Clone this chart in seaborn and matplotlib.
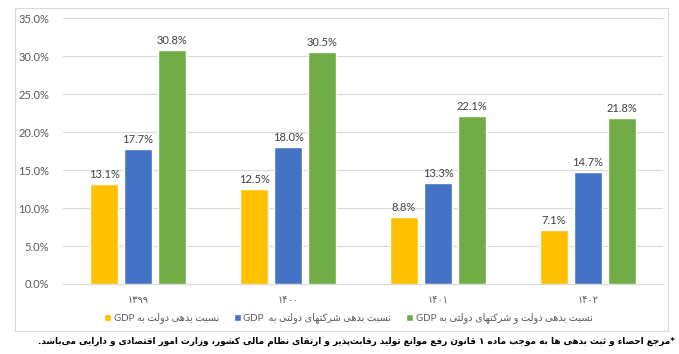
import re
import pandas as pd
import matplotlib
matplotlib.use("Agg")
import matplotlib.pyplot as plt
import seaborn as sns
from matplotlib.patches import Rectangle

# --- data ---
years = ["۱۳۹۹", "۱۴۰۰", "۱۴۰۱", "۱۴۰۲"]
series_names = [
    "نسبت بدهی دولت به GDP",
    "نسبت بدهی شرکتهای دولتی به  GDP",
    "نسبت بدهی دولت و شرکتهای دولتی به GDP",
]
gov_debt = [13.1, 12.5, 8.8, 7.1]
soe_debt = [17.7, 18.0, 13.3, 14.7]
total_debt = [30.8, 30.5, 22.1, 21.8]
colors = ["#FFC000", "#4472C4", "#70AD47"]
footnote = ("*مرجع احصاء و ثبت بدهی ها به موجب ماده ۱ قانون رفع موانع تولید رقابت\u200cپذیر "
            "و ارتقای نظام مالی کشور، وزارت امور اقتصادی و دارایی می\u200cباشد.")

# --- small persian shaper (matplotlib has no arabic shaping / bidi) ---
DUAL = {"ب": 0xFE8F, "ت": 0xFE95, "ث": 0xFE99, "ج": 0xFE9D, "ح": 0xFEA1, "خ": 0xFEA5,
        "س": 0xFEB1, "ش": 0xFEB5, "ص": 0xFEB9, "ض": 0xFEBD, "ط": 0xFEC1, "ظ": 0xFEC5,
        "ع": 0xFEC9, "غ": 0xFECD, "ف": 0xFED1, "ق": 0xFED5, "ل": 0xFEDD, "م": 0xFEE1,
        "ن": 0xFEE5, "ه": 0xFEE9, "ی": 0xFBFC, "ک": 0xFB8E, "پ": 0xFB56, "چ": 0xFB7A,
        "گ": 0xFB92}
RIGHT = {"ا": 0xFE8D, "د": 0xFEA9, "ذ": 0xFEAB, "ر": 0xFEAD, "ز": 0xFEAF, "و": 0xFEED,
         "ژ": 0xFB8A, "آ": 0xFE81}


def fa(s):
    out = []
    for i, c in enumerate(s):
        if c in DUAL or c in RIGHT:
            prev = s[i - 1] if i > 0 else ""
            nxt = s[i + 1] if i < len(s) - 1 else ""
            p = prev in DUAL
            q = c in DUAL and (nxt in DUAL or nxt in RIGHT)
            base = DUAL.get(c, RIGHT.get(c))
            k = 3 if (p and q) else 1 if p else 2 if q else 0
            out.append(chr(base + k))
        elif c == "\u200c":
            continue
        else:
            out.append(c)
    vis = "".join(out)[::-1]
    return re.sub(r"[A-Za-z0-9]+", lambda m: m.group(0)[::-1], vis)


labels = [fa(s) for s in series_names]
df = pd.DataFrame({
    "year": years * 3,
    "series": [labels[0]] * 4 + [labels[1]] * 4 + [labels[2]] * 4,
    "value": gov_debt + soe_debt + total_debt,
})

sns.set_theme(style="white")
plt.rcParams["font.family"] = ["Lato", "DejaVu Sans"]

fig = plt.figure(figsize=(6.79, 3.54), dpi=100)
ax = fig.add_axes([63 / 679, 1 - 284 / 354, 600 / 679, 266 / 354])

sns.barplot(data=df, x="year", y="value", hue="series", palette=colors,
            width=0.68, gap=0.18, ax=ax, saturation=1)

for cont in ax.containers:
    ax.bar_label(cont, labels=[f"{b.get_height():.1f}%" for b in cont],
                 padding=3, fontsize=8, color="#404040")

ax.set_ylim(0, 35)
ax.set_yticks(range(0, 36, 5))
ax.set_yticklabels([f"{v:.1f}%" for v in range(0, 36, 5)], fontsize=8, color="#595959")
ax.set_xticks(range(len(years)))
ax.set_xticklabels(years, fontsize=7, color="#595959", family=["DejaVu Sans"])
ax.tick_params(axis="both", length=0)
ax.tick_params(axis="x", pad=8)
ax.tick_params(axis="y", pad=10)
ax.set_xlabel("")
ax.set_ylabel("")
ax.set_xlim(-0.5, 3.5)
ax.yaxis.grid(True, color="#d9d9d9", linewidth=0.8)
ax.set_axisbelow(True)
for side in ["top", "right", "left"]:
    ax.spines[side].set_visible(False)
ax.spines["bottom"].set_color("#d9d9d9")
ax.spines["bottom"].set_linewidth(0.8)

ax.legend(loc="center", bbox_to_anchor=(0.513, 1 - 318 / 354),
          bbox_transform=fig.transFigure, ncol=3, frameon=False,
          fontsize=7, labelcolor="#595959", handlelength=0.7, handleheight=0.7,
          handletextpad=0.3, columnspacing=1.5)

fig.patches.append(Rectangle((15 / 679, 1 - 331 / 354), 653 / 679, 323 / 354,
                             transform=fig.transFigure, fill=False,
                             edgecolor="#d9d9d9", linewidth=0.8))

fig.text(675 / 679, 1 - 341 / 354, fa(footnote), ha="right", va="center",
         fontsize=6.4, fontweight="bold", color="black", family=["DejaVu Sans"])

fig.savefig("out.png", dpi=100)
